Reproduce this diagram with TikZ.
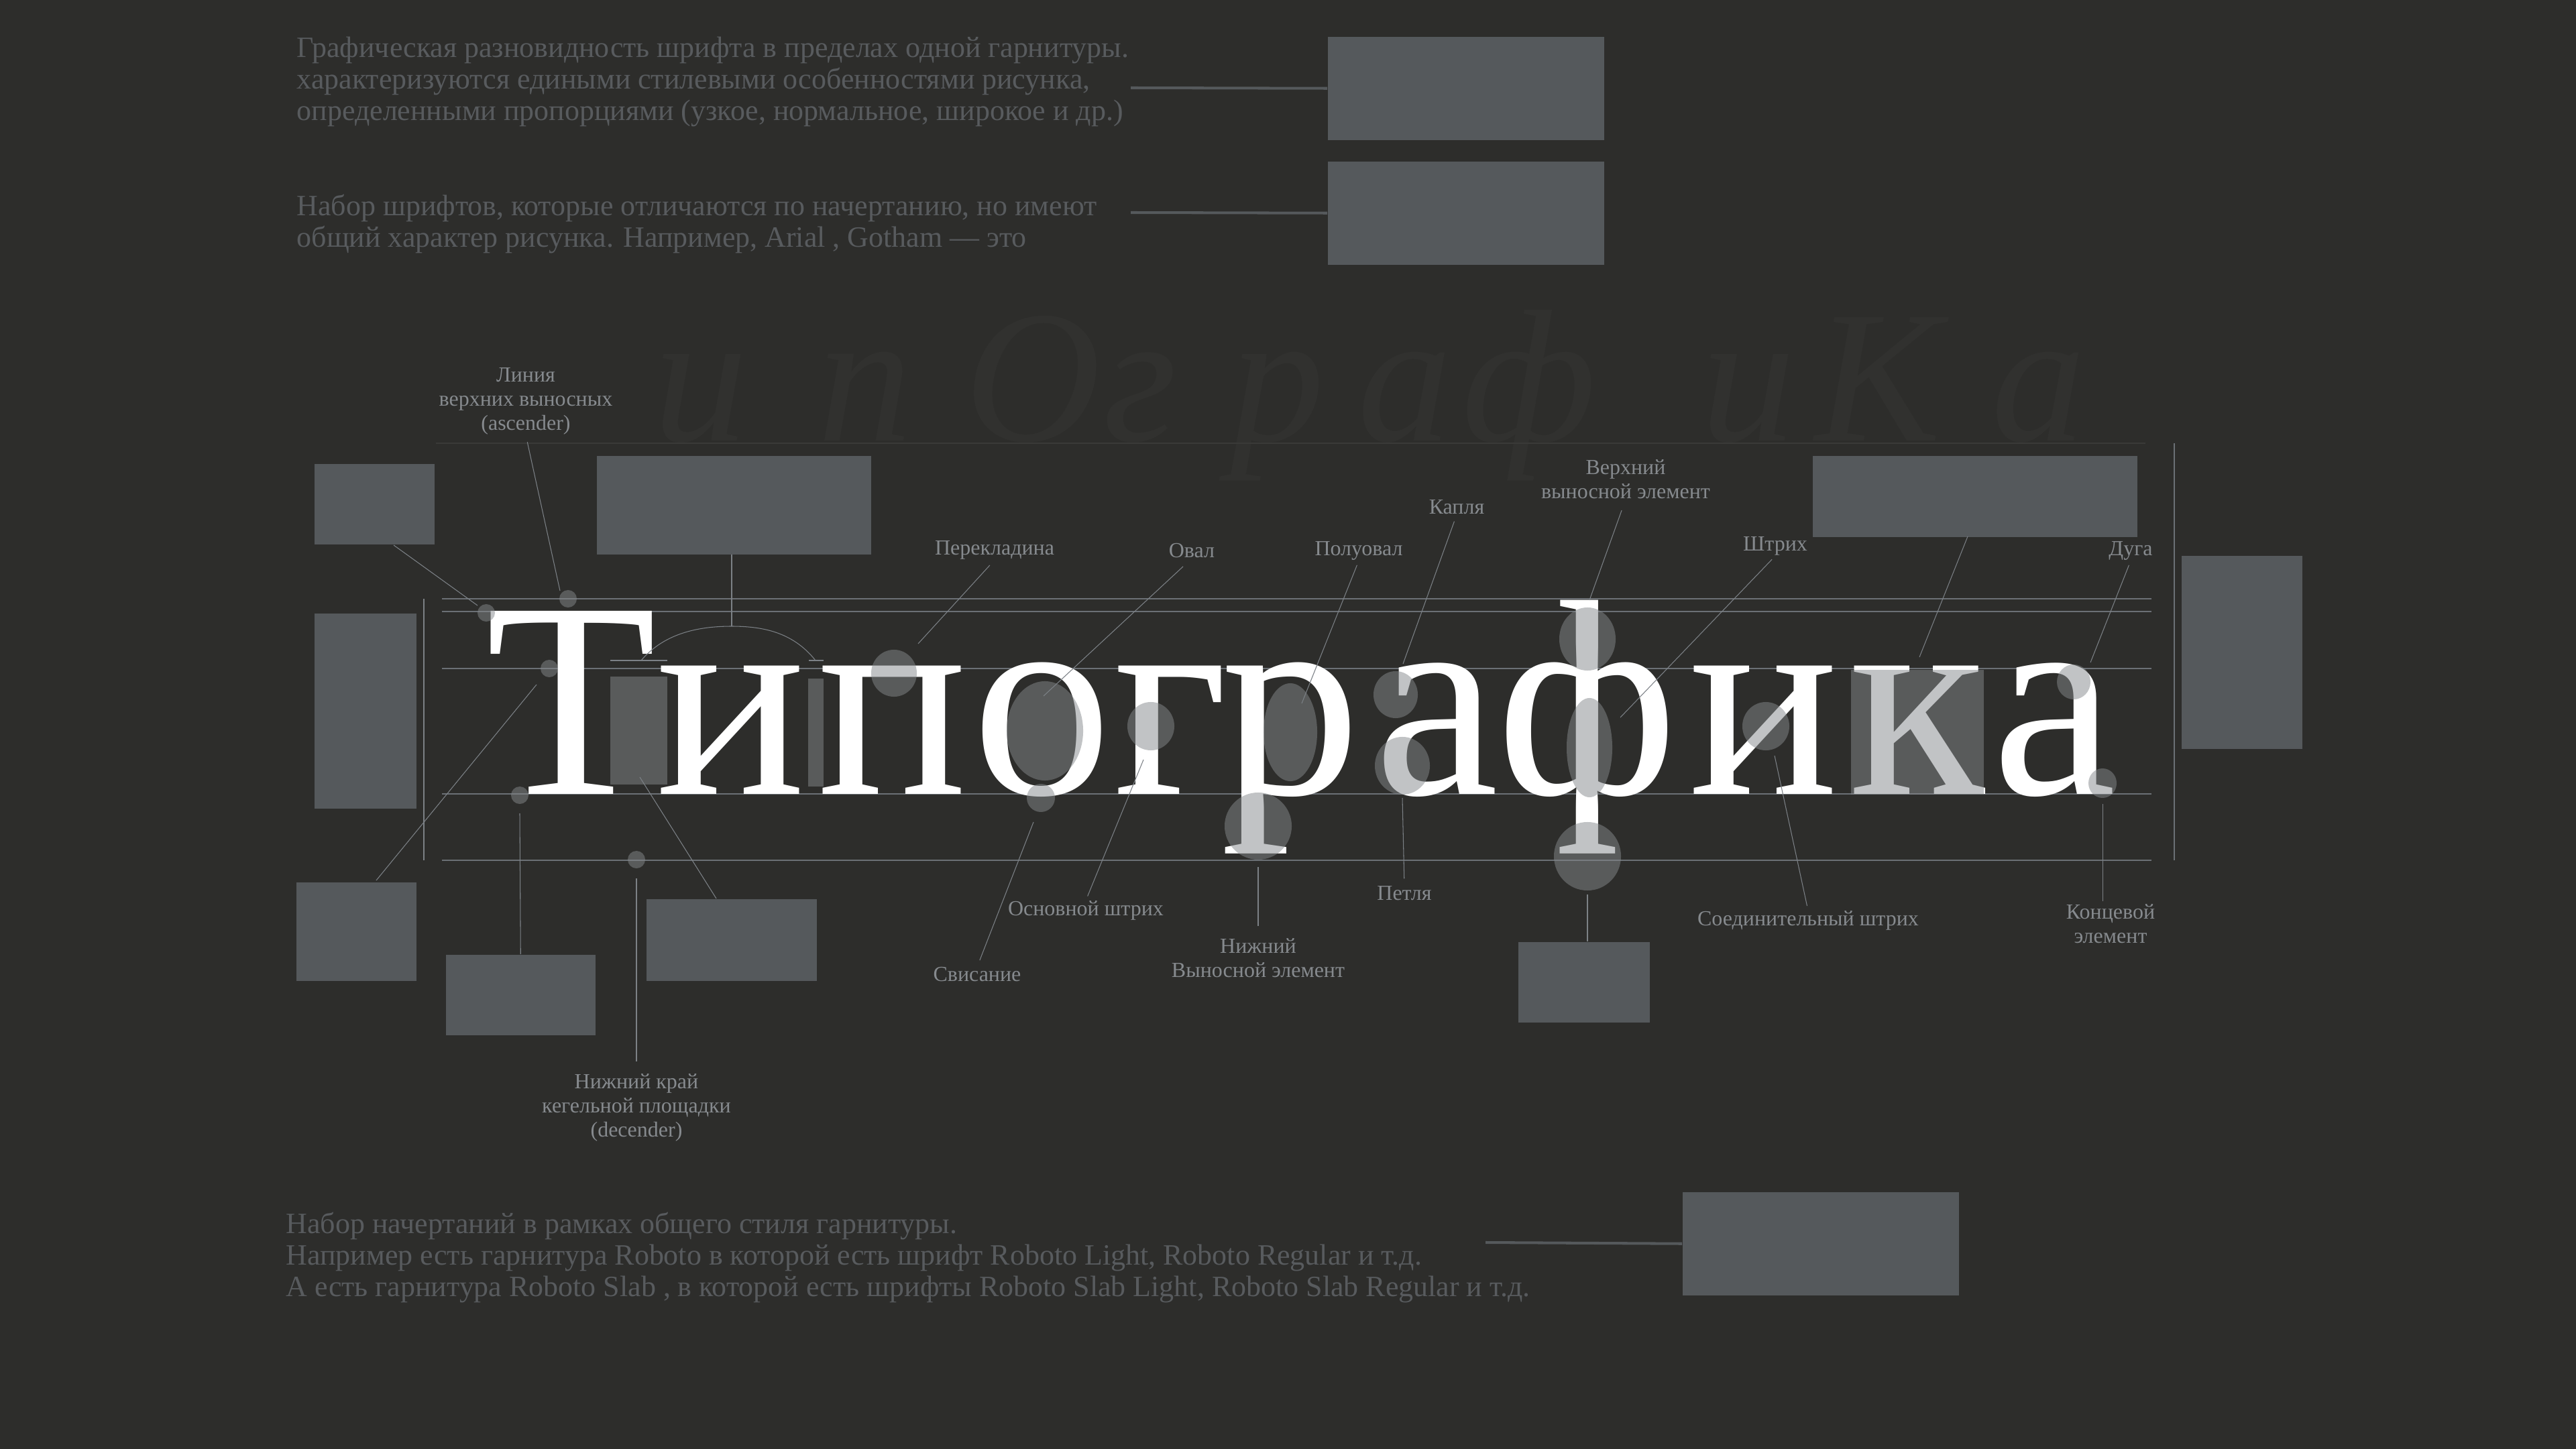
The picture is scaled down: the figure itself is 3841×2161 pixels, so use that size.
\documentclass[tikz,border=0pt]{standalone}
\usepackage{fontspec}
\setmainfont{Liberation Serif}
\usetikzlibrary{shapes.geometric}
\definecolor{tgBg}{HTML}{2D2D2B}
\definecolor{tgBox}{HTML}{55595C}
\definecolor{tgGuide}{HTML}{6B7075}
\definecolor{tgLead}{HTML}{7C8186}
\definecolor{tgLabel}{HTML}{868A8E}
\definecolor{tgText}{HTML}{585B5E}
\definecolor{tgGhost}{HTML}{31312F}
\definecolor{tgFaint}{HTML}{3A3A38}
\definecolor{tgHi}{HTML}{85898C}
\tikzset{
  blk/.style={fill=tgBox, inner sep=0pt, anchor=north west},
  hl/.style={ellipse, fill=tgHi, fill opacity=0.5, inner sep=0pt},
  hlbox/.style={rectangle, fill=tgHi, fill opacity=0.5, inner sep=0pt},
  dot/.style={hl, minimum size=2.6mm},
  guide/.style={tgGuide, line width=0.7pt},
  lead/.style={tgLead, line width=0.3pt},
  link/.style={tgBox, line width=1.15pt},
  lbl/.style={text=tgLabel, font=\fontsize{9.1}{10.2}\selectfont, align=center, inner sep=0pt, anchor=north},
  para/.style={text=tgText, font=\fontsize{12.5}{13.37}\selectfont, align=left, inner sep=0pt, anchor=north west},
  glyph/.style={text=white, font=\fontsize{118.6}{120}\selectfont, inner sep=0pt, anchor=base},
  ghost/.style={text=tgGhost, font=\fontsize{80}{80}\selectfont\itshape, inner sep=0pt, anchor=base}
}

\begin{document}
\begin{tikzpicture}[x=0.01cm, y=-0.01cm]
  \path[use as bounding box, fill=tgBg] (0,0) rectangle (3841,2161);

  % faint word behind
  \foreach \hx/\hc [count=\hi] in {1045/и, 1290/п, 1540/О, 1700/г, 1905/р, 2095/а, 2280/ф, 2607/и, 2800/К, 3040/а}
    \node[ghost] (h\hi) at (\hx,658) {\hc};
  \draw[tgFaint, line width=0.6pt] (650,661) -- (3199,661);

  % guide lines
  \foreach \gy in {893,912,997,1184,1283}
    \draw[guide] (659,\gy) -- (3208,\gy);
  \draw[lead] (632,893) -- (632,1283);
  \draw[guide, line width=0.55pt] (3242,661) -- (3242,1283);

  % placeholder boxes
  \node[blk, minimum width=4.12cm, minimum height=1.54cm] (bxT1) at (1979,54) {};
  \node[blk, minimum width=4.12cm, minimum height=1.54cm] (bxT2) at (1979,240) {};
  \node[blk, minimum width=1.79cm, minimum height=1.20cm] (bxA) at (468,691) {};
  \node[blk, minimum width=4.09cm, minimum height=1.47cm] (bxB) at (889,679) {};
  \node[blk, minimum width=1.52cm, minimum height=2.91cm] (bxC) at (468,914) {};
  \node[blk, minimum width=1.79cm, minimum height=1.47cm] (bxD) at (441,1315) {};
  \node[blk, minimum width=2.23cm, minimum height=1.20cm] (bxE) at (664,1423) {};
  \node[blk, minimum width=2.54cm, minimum height=1.22cm] (bxF) at (963,1340) {};
  \node[blk, minimum width=1.96cm, minimum height=1.20cm] (bxG) at (2263,1404) {};
  \node[blk, minimum width=4.84cm, minimum height=1.21cm] (bxH) at (2702,679) {};
  \node[blk, minimum width=1.80cm, minimum height=2.88cm] (bxI) at (3252,828) {};
  \node[blk, minimum width=4.12cm, minimum height=1.54cm] (bxJ) at (2508,1777) {};

  % definitions
  \node[para] (pStyle) at (442,54) {Графическая разновидность шрифта в пределах одной гарнитуры.\\характеризуются едиными стилевыми особенностями рисунка,\\определенными пропорциями (узкое, нормальное, широкое и др.)};
  \node[para] (pFace) at (442,289) {Набор шрифтов, которые отличаются по начертанию, но имеют\\общий характер рисунка. Например, Arial , Gotham — это};
  \node[para] (pFamily) at (426,1807) {Набор начертаний в рамках общего стиля гарнитуры.\\Например есть гарнитура Roboto в которой есть шрифт Roboto Light, Roboto Regular и т.д.\\А есть гарнитура Roboto Slab , в которой есть шрифты Roboto Slab Light, Roboto Slab Regular и т.д.};
  \coordinate (cP1) at (1686,131);
  \coordinate (cP2) at (1686,317);
  \coordinate (cP3) at (2215,1853);
  \draw[link] (cP1) -- (bxT1.west);
  \draw[link] (cP2) -- (bxT2.west);
  \draw[link] (cP3) -- (bxJ.west);

  % main word
  \foreach \gx/\gc [count=\gi] in {852/Т, 1090/и, 1331/п, 1554/о, 1746/г, 1925/р, 2142/а, 2367/ф, 2630/и, 2859/к, 3063/а}
    \node[glyph] (g\gi) at (\gx,1184) {\gc};

  % highlights
  \node[hlbox, minimum width=0.85cm, minimum height=1.61cm] (rT) at (952.5,1089.5) {};
  \node[hlbox, minimum width=0.23cm, minimum height=1.61cm] (rP) at (1216.5,1092.5) {};
  \node[hlbox, minimum width=1.98cm, minimum height=1.86cm] (rK) at (2859,1092) {};
  \node[dot] (e1) at (725,914) {};
  \node[dot] (e2) at (847,893) {};
  \node[dot] (e3) at (819,997) {};
  \node[dot] (e4) at (775,1186) {};
  \node[dot] (e5) at (949,1282) {};
  \node[hl, minimum width=0.68cm, minimum height=0.70cm] (e6) at (1333,1004) {};
  \node[hl, minimum width=1.14cm, minimum height=1.48cm] (e7) at (1558,1090) {};
  \node[hl, minimum width=0.42cm, minimum height=0.42cm] (e8) at (1552,1190) {};
  \node[hl, minimum width=0.70cm, minimum height=0.72cm] (e9) at (1716,1083) {};
  \node[hl, minimum width=0.80cm, minimum height=1.46cm] (e10) at (1924,1092) {};
  \node[hl, minimum width=1.00cm, minimum height=1.00cm] (e11) at (1876,1232) {};
  \node[hl, minimum width=0.66cm, minimum height=0.70cm] (e12) at (2081,1036) {};
  \node[hl, minimum width=0.82cm, minimum height=0.86cm] (e13) at (2091,1142) {};
  \node[hl, minimum width=0.84cm, minimum height=0.94cm] (e14) at (2367,953) {};
  \node[hl, minimum width=0.68cm, minimum height=1.48cm] (e15) at (2370,1115) {};
  \node[hl, minimum width=1.00cm, minimum height=1.02cm] (e16) at (2367,1277) {};
  \node[hl, minimum width=0.70cm, minimum height=0.72cm] (e17) at (2633,1083) {};
  \node[hl, minimum width=0.50cm, minimum height=0.52cm] (e19) at (3092,1017) {};
  \node[hl, minimum width=0.42cm, minimum height=0.44cm] (e20) at (3135,1168) {};

  % spacing arc
  \draw[lead] (910,985) -- (995,985);
  \draw[lead] (1206,985) -- (1228,985);
  \draw[lead] (956,985) .. controls (990,945) and (1040,934) .. (1091,934)
    .. controls (1142,934) and (1184,945) .. (1216,985);
  \draw[lead] (bxB.south -| 1091,0) -- (1091,934);

  % labels
  \node[lbl] (lAsc) at (784,548) {Линия\\верхних выносных\\(ascender)};
  \node[lbl] (lPer) at (1483,806) {Перекладина};
  \node[lbl] (lOval) at (1777,810) {Овал};
  \node[lbl] (lPol) at (2026,807) {Полуовал};
  \node[lbl] (lKap) at (2172,745) {Капля};
  \node[lbl] (lVerh) at (2424,685) {Верхний\\выносной элемент};
  \node[lbl] (lShtr) at (2647,800) {Штрих};
  \node[lbl] (lDug) at (3177,807) {Дуга};
  \node[lbl] (lOsn) at (1619,1343) {Основной штрих};
  \node[lbl] (lSvis) at (1457,1442) {Свисание};
  \node[lbl] (lDec) at (949,1601) {Нижний край\\кегельной площадки\\(decender)};
  \node[lbl] (lNizh) at (1876,1399) {Нижний\\Выносной элемент};
  \node[lbl] (lPet) at (2094,1321) {Петля};
  \node[lbl] (lSoed) at (2696,1358) {Соединительный штрих};
  \node[lbl] (lKon) at (3147,1348) {Концевой\\элемент};

  % leader targets
  \coordinate (cA1) at (587,813);
  \coordinate (cA2) at (712,903);
  \coordinate (cAsc) at (835,881);
  \coordinate (cD1) at (561,1313);
  \coordinate (cD2) at (800,1021);
  \coordinate (cE) at (775,1213);
  \coordinate (cDec) at (949,1310);
  \coordinate (cR1) at (954,1159);
  \coordinate (cF) at (1068,1340);
  \coordinate (cPer) at (1369,960);
  \coordinate (cOval) at (1556,1038);
  \coordinate (cSvis) at (1541,1226);
  \coordinate (cOsn) at (1705,1133);
  \coordinate (cPol) at (1941,1049);
  \coordinate (cKap) at (2092,990);
  \coordinate (cVerh) at (2370,895);
  \coordinate (cShtr) at (2416,1070);
  \coordinate (cH1) at (2934,800);
  \coordinate (cH2) at (2862,980);
  \coordinate (cDug) at (3117,988);
  \coordinate (cNizh) at (1876,1293);
  \coordinate (cPet) at (2091,1190);
  \coordinate (cSoed) at (2646,1127);
  \coordinate (cKon) at (3135,1199);
  \coordinate (cFb) at (2367,1334);

  % leaders
  \draw[lead] (cA1) -- (cA2);
  \draw[lead, shorten <=3pt] (lAsc.south) -- (cAsc);
  \draw[lead] (cD1) -- (cD2);
  \draw[lead] (cE) -- (bxE.north);
  \draw[lead, shorten >=5pt] (cDec) -- (lDec.north);
  \draw[lead] (cR1) -- (cF);
  \draw[lead, shorten <=3pt] (lPer.south) -- (cPer);
  \draw[lead, shorten <=5pt] (lOval.south) -- (cOval);
  \draw[lead, shorten <=2pt] (lPol.south) -- (cPol);
  \draw[lead, shorten <=3pt] (lKap.south) -- (cKap);
  \draw[lead, shorten <=5pt] (lVerh.south) -- (cVerh);
  \draw[lead, shorten <=2pt] (lShtr.south) -- (cShtr);
  \draw[lead] (cH1) -- (cH2);
  \draw[lead, shorten <=2pt] (lDug.south) -- (cDug);
  \draw[lead, shorten >=2pt] (cOsn) -- (lOsn.north);
  \draw[lead, shorten >=3pt] (cSvis) -- (lSvis.north);
  \draw[lead, shorten >=5pt] (cNizh) -- (lNizh.north);
  \draw[lead, shorten >=3pt] (cPet) -- (lPet.north);
  \draw[lead, shorten >=2pt] (cSoed) -- (lSoed.north);
  \draw[lead, shorten >=1pt] (cKon) -- (lKon.north -| cKon);
  \draw[lead] (cFb) -- (bxG.north -| cFb);
\end{tikzpicture}
\end{document}
